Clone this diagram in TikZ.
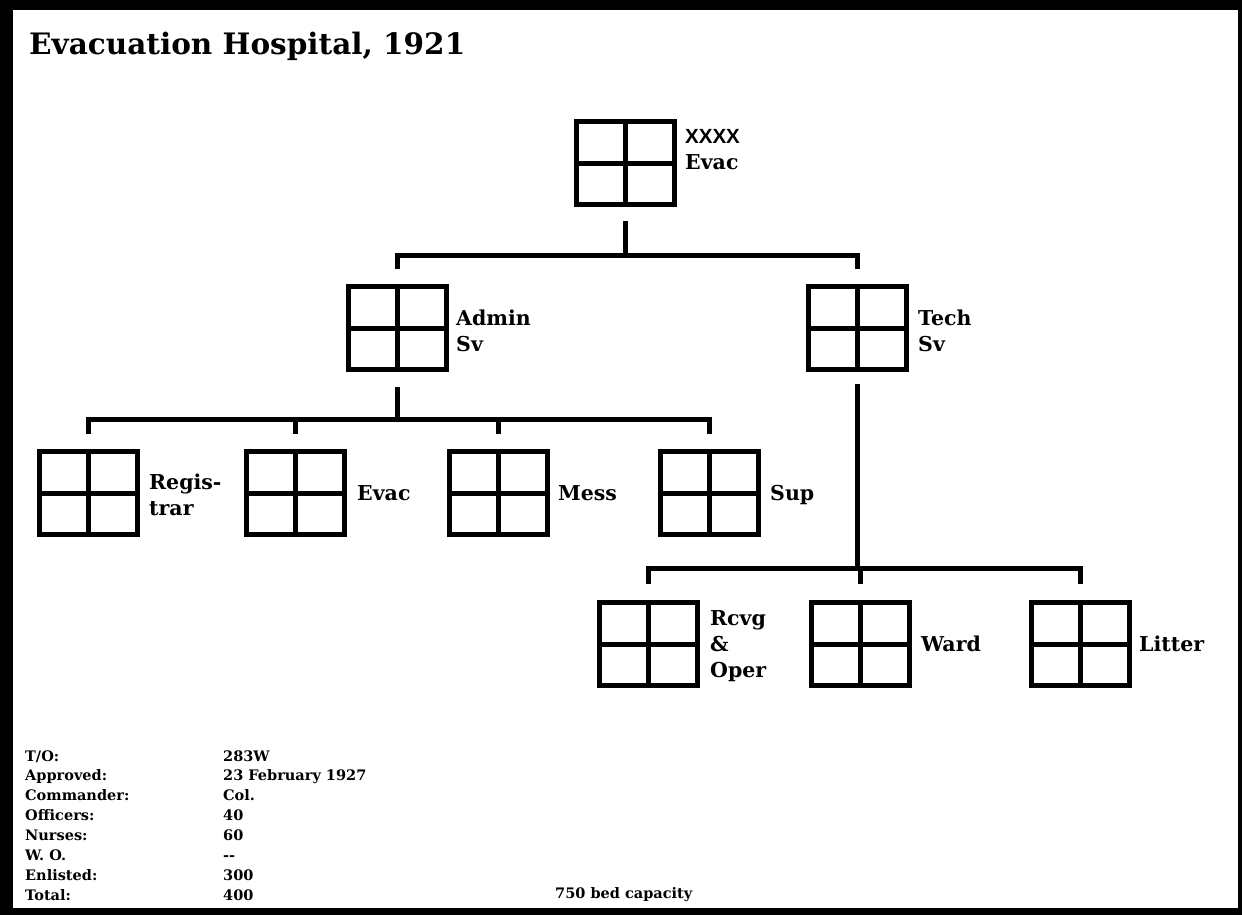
\documentclass[tikz,border=0pt]{standalone}
\usepackage{fontspec}
\setmainfont{DejaVu Serif}
\newfontfamily\xsans{Liberation Sans}
\newcommand{\mlines}[1]{\begin{tabular}[t]{@{}l@{}}#1\end{tabular}}
\tikzset{
  unit/.style={draw, line width=5pt, minimum width=98pt, minimum height=83pt, inner sep=0pt,
    path picture={\draw[line width=5pt]
      (path picture bounding box.north) -- (path picture bounding box.south)
      (path picture bounding box.west) -- (path picture bounding box.east);}},
  conn/.style={line width=5pt, line join=miter},
  lbl/.style={anchor=base west, inner sep=0pt, font=\bfseries\fontsize{20.5}{26}\selectfont},
  tbl/.style={anchor=base west, inner sep=0pt, font=\bfseries\fontsize{14.5}{19.86}\selectfont}
}
\begin{document}
\begin{tikzpicture}[x=1pt,y=-1pt]
\useasboundingbox (0,0) rectangle (1242,915);
\fill[black] (0,0) rectangle (1242,915);
\fill[white] (13,10) rectangle (1238,908);

\node[anchor=base west, inner sep=0pt, font=\bfseries\fontsize{29.5}{34}\selectfont] (title) at (29,55) {Evacuation Hospital, 1921};

% units
\node[unit] (top) at (625,163) {};
\node[unit] (admin) at (397,328) {};
\node[unit] (tech) at (857,328) {};
\node[unit] (reg) at (88,493) {};
\node[unit] (evac) at (295,493) {};
\node[unit] (mess) at (498,493) {};
\node[unit] (sup) at (709,493) {};
\node[unit] (rcvg) at (648,644) {};
\node[unit] (ward) at (860,644) {};
\node[unit] (litter) at (1080,644) {};

% bus coordinates
\coordinate (b1) at (0,255);
\coordinate (b2) at (0,419);
\coordinate (b3) at (0,568);

% connectors
\draw[conn] ([yshift=-14pt]top.south) -- (top.south |- b1);
\draw[conn] ([yshift=15pt]admin.north) -- (admin.north |- b1) -- (tech.north |- b1) -- ([yshift=15pt]tech.north);

\draw[conn] ([yshift=-15pt]admin.south) -- (admin.south |- b2);
\draw[conn] ([yshift=15pt]reg.north) -- (reg.north |- b2) -- (sup.north |- b2) -- ([yshift=15pt]sup.north);
\draw[conn] (evac.north |- b2) -- ([yshift=15pt]evac.north);
\draw[conn] (mess.north |- b2) -- ([yshift=15pt]mess.north);

\draw[conn] ([yshift=-12pt]tech.south) -- (tech.south |- b3);
\draw[conn] ([yshift=16pt]rcvg.north) -- (rcvg.north |- b3) -- (litter.north |- b3) -- ([yshift=16pt]litter.north);
\draw[conn] (ward.north |- b3) -- ([yshift=16pt]ward.north);

% labels
\node[lbl] (ltop) at (685,143) {\mlines{{\xsans\bfseries XXXX}\\Evac}};
\node[lbl] (ladmin) at (456,325) {\mlines{Admin\\Sv}};
\node[lbl] (ltech) at (918,325) {\mlines{Tech\\Sv}};
\node[lbl] (lreg) at (149,489) {\mlines{Regis-\\trar}};
\node[lbl] (levac) at (357,500) {Evac};
\node[lbl] (lmess) at (558,500) {Mess};
\node[lbl] (lsup) at (770,500) {Sup};
\node[lbl] (lrcvg) at (710,625) {\mlines{Rcvg\\\&\\Oper}};
\node[lbl] (lward) at (921,651) {Ward};
\node[lbl] (llitter) at (1139,651) {Litter};

% table
\node[tbl] (k1) at (25,761) {\mlines{T/O:\\Approved:\\Commander:\\Officers:\\Nurses:\\W. O.\\Enlisted:\\Total:}};
\node[tbl] (v1) at (223,761) {\mlines{283W\\23 February 1927\\Col.\\40\\60\\-{}-\\300\\400}};
\node[tbl] (cap) at (555,898) {750 bed capacity};
\end{tikzpicture}
\end{document}
